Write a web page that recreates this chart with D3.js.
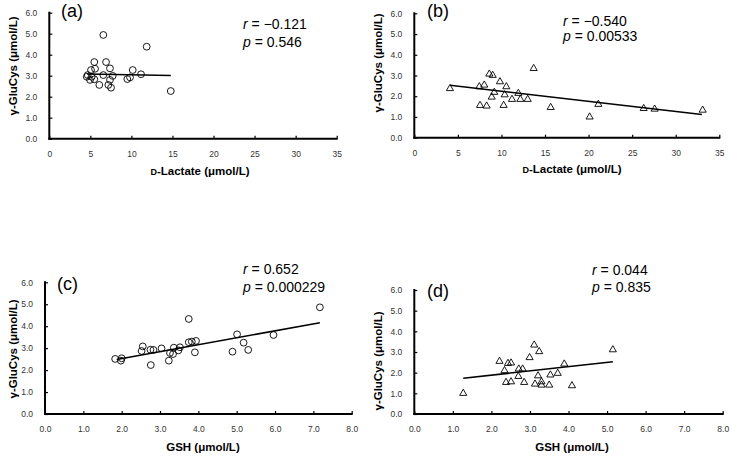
<!DOCTYPE html>
<html><head><meta charset="utf-8">
<script src="https://cdn.jsdelivr.net/npm/d3@7"></script>
<style>
body{margin:0;background:#fff;}
svg{display:block;font-family:"Liberation Sans",Arial,sans-serif;}
</style></head><body>
<svg id="chart" width="730" height="458"></svg>
<script>
// ---- data ----
const aX = [6.58,11.86,5.48,6.91,5.57,7.39,5.08,10.16,4.68,4.56,6.58,7.72,11.17,5.16,5.48,4.96,7.39,9.50,9.83,6.09,7.19,7.52,14.79];
const aY = [4.94,4.38,3.65,3.65,3.33,3.35,3.27,3.27,3.03,2.95,3.03,2.99,3.07,2.95,2.83,2.80,2.80,2.84,2.92,2.56,2.56,2.43,2.27];
const aLineX = [4.6,14.8], aLineY = [3.08,3.01];

const bX = [4.09,7.46,8.03,8.61,8.99,9.83,10.56,9.18,8.88,10.37,11.94,11.21,12.17,13.01,7.54,8.30,10.25,13.70,15.65,20.12,21.12,26.32,27.58,33.09];
const bY = [2.37,2.46,2.54,3.07,3.01,2.70,2.46,2.19,1.96,2.07,2.14,1.85,1.85,1.85,1.56,1.53,1.56,3.34,1.46,1.00,1.61,1.41,1.38,1.33];
const bLineX = [4.1,33.0], bLineY = [2.53,1.12];

const cX = [1.83,2.00,1.98,2.55,2.52,2.75,2.83,2.76,3.04,3.23,3.26,3.34,3.36,3.48,3.52,3.75,3.75,3.83,3.94,3.91,4.89,5.01,5.18,5.30,5.96,7.17];
const cY = [2.51,2.54,2.43,3.08,2.87,2.93,2.92,2.23,2.99,2.43,2.78,2.73,3.02,2.90,3.04,4.33,3.27,3.30,3.33,2.81,2.84,3.63,3.25,2.92,3.60,4.86];
const cLineX = [1.87,7.17], cLineY = [2.48,4.16];

const dX = [1.27,2.21,2.34,2.43,2.51,2.38,2.51,2.71,2.81,2.70,2.99,2.85,3.11,3.24,3.21,3.13,3.30,3.30,3.50,3.53,3.72,3.89,4.09,5.15];
const dY = [1.00,2.55,2.10,2.45,2.47,1.53,1.56,2.18,2.18,1.82,2.73,1.53,3.34,3.02,1.85,1.45,1.56,1.40,1.40,1.89,1.97,2.42,1.37,3.11];
const dLineX = [1.27,5.15], dLineY = [1.73,2.53];

const yTicks = [0,1,2,3,4,5,6];
const xTicksLac = [0,5,10,15,20,25,30,35];
const xTicksGsh = [0,1,2,3,4,5,6,7,8];

const panelLabels = ["(a)","(b)","(c)","(d)"];
const rTexts = ["\u22120.121","\u22120.540","0.652","0.044"];
const pTexts = ["0.546","0.00533","0.000229","0.835"];
const yTitle = "\u03b3-GluCys (\u03bcmol/L)";

// ---- layout ----
const panels = [
  {x:aX,y:aY,lx:aLineX,ly:aLineY,xmax:35,xt:xTicksLac,fmt:d3.format("d"),mark:"circle",
   l:49.3,r:336.7,b:138.7,t:12.7, lab:[61,17], rp:[243,29,46.5], xt_c:[200,175], yt_c:[13,66], xtitle:"lac"},
  {x:bX,y:bY,lx:bLineX,ly:bLineY,xmax:35,xt:xTicksLac,fmt:d3.format("d"),mark:"tri",
   l:414.3,r:719.3,b:137.7,t:13.3, lab:[427,17], rp:[563,25.7,40.7], xt_c:[572,173], yt_c:[378,63], xtitle:"lac"},
  {x:cX,y:cY,lx:cLineX,ly:cLineY,xmax:8,xt:xTicksGsh,fmt:d3.format(".1f"),mark:"circle",
   l:45,r:351.7,b:414,t:282.3, lab:[57,290], rp:[243,274,291.5], xt_c:[203,451], yt_c:[13,349], xtitle:"gsh"},
  {x:dX,y:dY,lx:dLineX,ly:dLineY,xmax:8,xt:xTicksGsh,fmt:d3.format(".1f"),mark:"tri",
   l:414.3,r:722.7,b:414,t:290, lab:[427,297], rp:[592,274.7,292], xt_c:[572,451], yt_c:[378,361], xtitle:"gsh"}
];

const svg = d3.select("#chart");

panels.forEach((p,i)=>{
  const xs = d3.scaleLinear().domain([0,p.xmax]).range([p.l,p.r]);
  const ys = d3.scaleLinear().domain([0,6]).range([p.b,p.t]);
  const g = svg.append("g");

  // y axis
  const ya = g.append("g").attr("transform",`translate(${p.l},0)`)
    .call(d3.axisRight(ys).tickValues(yTicks).tickSize(3).tickFormat(d3.format(".1f")));
  ya.select(".domain").attr("stroke","#000").attr("stroke-width",2).attr("d",`M0,${p.b+1}V${p.t-1}`);
  ya.selectAll(".tick line").attr("stroke","#000").attr("stroke-width",1.2);
  ya.selectAll(".tick text").attr("x",-12).attr("text-anchor","end").attr("font-size",8.5).attr("fill","#333");

  // x axis
  const xa = g.append("g").attr("transform",`translate(0,${p.b})`)
    .call(d3.axisTop(xs).tickValues(p.xt).tickSize(3).tickFormat(p.fmt));
  xa.select(".domain").attr("stroke","#000").attr("stroke-width",2).attr("d",`M${p.l-1},0H${p.r+1}`);
  xa.selectAll(".tick line").attr("stroke","#000").attr("stroke-width",1.2);
  xa.selectAll(".tick text").attr("y",15).attr("dy","0.35em").attr("font-size",8.5).attr("fill","#333");

  // regression line
  g.append("line")
    .attr("x1",xs(p.lx[0])).attr("y1",ys(p.ly[0]))
    .attr("x2",xs(p.lx[1])).attr("y2",ys(p.ly[1]))
    .attr("stroke","#000").attr("stroke-width",1.6);

  // points
  const pts = d3.range(p.x.length);
  if(p.mark==="circle"){
    g.selectAll("circle.pt").data(pts).join("circle").attr("class","pt")
      .attr("cx",k=>xs(p.x[k])).attr("cy",k=>ys(p.y[k])).attr("r",3.4)
      .attr("fill","none").attr("stroke","#000").attr("stroke-width",0.9);
  } else {
    const sym = d3.symbol().type(d3.symbolTriangle).size(22);
    g.selectAll("path.pt").data(pts).join("path").attr("class","pt")
      .attr("transform",k=>`translate(${xs(p.x[k])},${ys(p.y[k])})`)
      .attr("d",sym).attr("fill","none").attr("stroke","#000").attr("stroke-width",0.9);
  }

  // panel label
  g.append("text").attr("x",p.lab[0]).attr("y",p.lab[1]).attr("font-size",18).text(panelLabels[i]);

  // r / p
  const rt = g.append("text").attr("x",p.rp[0]).attr("y",p.rp[1]).attr("font-size",14);
  rt.append("tspan").attr("font-style","italic").text("r");
  rt.append("tspan").text(" = " + rTexts[i]);
  const pt = g.append("text").attr("x",p.rp[0]).attr("y",p.rp[2]).attr("font-size",14);
  pt.append("tspan").attr("font-style","italic").text("p");
  pt.append("tspan").text(" = " + pTexts[i]);

  // x title
  const xt = g.append("text").attr("x",p.xt_c[0]).attr("y",p.xt_c[1]).attr("text-anchor","middle")
    .attr("font-size",11.5).attr("font-weight","bold");
  if(p.xtitle==="lac"){
    xt.append("tspan").attr("font-size",9).text("D");
    xt.append("tspan").text("-Lactate (\u03bcmol/L)");
  } else {
    xt.text("GSH (\u03bcmol/L)");
  }

  // y title
  g.append("text").attr("transform",`translate(${p.yt_c[0]},${p.yt_c[1]}) rotate(-90)`)
    .attr("text-anchor","middle").attr("dy","0.35em")
    .attr("font-size",11.5).attr("font-weight","bold").text(yTitle);
});
</script>
</body></html>
